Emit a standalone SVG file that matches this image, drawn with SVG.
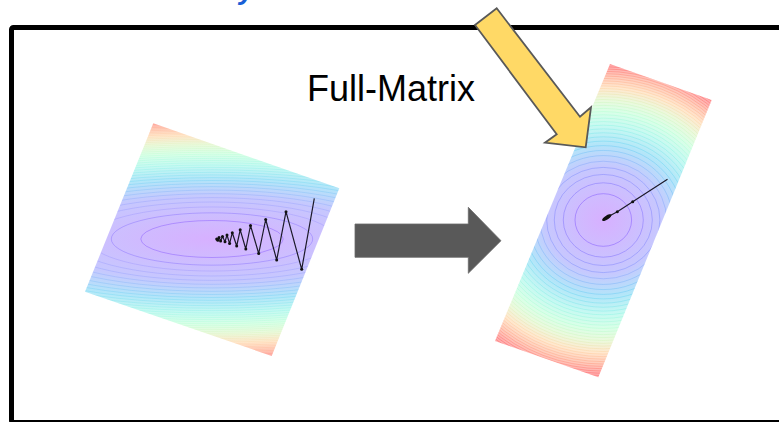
<svg xmlns="http://www.w3.org/2000/svg" width="779" height="422" viewBox="0 0 779 422">
<style>
.frame{fill:none;stroke:#000;stroke-width:5}
.lbl{font-family:"Liberation Sans",Arial,sans-serif;font-size:36px;fill:#000}
.title{font-family:"Liberation Sans",Arial,sans-serif;font-size:28px;font-style:italic;font-weight:bold;fill:#1a5fd6}
.cL{fill:none;stroke:url(#gLl);stroke-opacity:0.2;stroke-width:0.8}
.cR{fill:none;stroke:url(#gRl);stroke-opacity:0.24;stroke-width:0.9}
.traj{fill:none;stroke:#1c1a2a;stroke-width:1.2;stroke-linejoin:round}
.gray{fill:#595959;stroke:#6a6a6a;stroke-width:0.8}
.yellow{fill:#ffd966;stroke:#595959;stroke-width:1.8;stroke-linejoin:miter}
</style>
<defs>
<radialGradient id="pastel">
<stop offset="0" stop-color="#d7b0ff"/>
<stop offset="0.354" stop-color="#c6c8fe"/>
<stop offset="0.5" stop-color="#b3e6f9"/>
<stop offset="0.612" stop-color="#c6f9f2"/>
<stop offset="0.707" stop-color="#d9ffe8"/>
<stop offset="0.79" stop-color="#ecf9dd"/>
<stop offset="0.866" stop-color="#ffe8cf"/>
<stop offset="0.935" stop-color="#ffcdbd"/>
<stop offset="1" stop-color="#ffaeae"/>
</radialGradient>
<radialGradient id="sat">
<stop offset="0" stop-color="#8000ff"/>
<stop offset="0.354" stop-color="#4062fa"/>
<stop offset="0.5" stop-color="#00b5eb"/>
<stop offset="0.612" stop-color="#40ecd4"/>
<stop offset="0.707" stop-color="#80ffb4"/>
<stop offset="0.79" stop-color="#c0eb8d"/>
<stop offset="0.866" stop-color="#ffb360"/>
<stop offset="0.935" stop-color="#ff6230"/>
<stop offset="1" stop-color="#ff0000"/>
</radialGradient>
<radialGradient id="gL" href="#pastel" gradientUnits="userSpaceOnUse" cx="0" cy="0" r="1" gradientTransform="translate(212 239) scale(462 120)"/>
<radialGradient id="gLl" href="#sat" gradientUnits="userSpaceOnUse" cx="0" cy="0" r="1" gradientTransform="translate(212 239) scale(462 120)"/>
<radialGradient id="gR" href="#pastel" gradientUnits="userSpaceOnUse" cx="0" cy="0" r="1" gradientTransform="translate(603.3 220) scale(165 153)"/>
<radialGradient id="gRl" href="#sat" gradientUnits="userSpaceOnUse" cx="0" cy="0" r="1" gradientTransform="translate(603.3 220) scale(165 153)"/>
<clipPath id="clipL"><polygon points="153.3,123.3 339.3,188.3 271.7,356 85,291.7"/></clipPath>
<clipPath id="clipR"><polygon points="610,64 711.7,100 598.3,377.3 495,341"/></clipPath>
<marker id="dot" markerWidth="5" markerHeight="5" refX="2.5" refY="2.5" markerUnits="userSpaceOnUse"><circle cx="2.5" cy="2.5" r="1.5" fill="#111"/></marker>
</defs>

<g id="title-fragment"><text class="title" x="239" y="-1.5">y</text></g>

<g id="frame"><rect class="frame" x="11.5" y="27.5" width="800" height="395" rx="2"/></g>

<g id="label-full-matrix"><text class="lbl" x="307" y="101">Full-Matrix</text></g>

<g id="plot-sgd" clip-path="url(#clipL)">
<rect x="80" y="118" width="265" height="245" fill="url(#gL)"/>
<g class="cL">
<ellipse cx="212" cy="239" rx="71.2" ry="18.5" stroke-opacity="0.4"/>
<ellipse cx="212" cy="239" rx="100.7" ry="26.16" stroke-opacity="0.35"/>
<ellipse cx="212" cy="239" rx="123.4" ry="32.04"/>
<ellipse cx="212" cy="239" rx="142.5" ry="37"/>
<ellipse cx="212" cy="239" rx="159.3" ry="41.37"/>
<ellipse cx="212" cy="239" rx="174.5" ry="45.32"/>
<ellipse cx="212" cy="239" rx="188.4" ry="48.95"/>
<ellipse cx="212" cy="239" rx="201.5" ry="52.33"/>
<ellipse cx="212" cy="239" rx="213.7" ry="55.5"/>
<ellipse cx="212" cy="239" rx="225.2" ry="58.5"/>
<ellipse cx="212" cy="239" rx="236.2" ry="61.36"/>
<ellipse cx="212" cy="239" rx="246.7" ry="64.09"/>
<ellipse cx="212" cy="239" rx="256.8" ry="66.7"/>
<ellipse cx="212" cy="239" rx="266.5" ry="69.22"/>
<ellipse cx="212" cy="239" rx="275.9" ry="71.65"/>
<ellipse cx="212" cy="239" rx="284.9" ry="74"/>
<ellipse cx="212" cy="239" rx="293.7" ry="76.28"/>
<ellipse cx="212" cy="239" rx="302.2" ry="78.49"/>
<ellipse cx="212" cy="239" rx="310.5" ry="80.64"/>
<ellipse cx="212" cy="239" rx="318.5" ry="82.73"/>
<ellipse cx="212" cy="239" rx="326.4" ry="84.78"/>
<ellipse cx="212" cy="239" rx="334.1" ry="86.77"/>
<ellipse cx="212" cy="239" rx="341.6" ry="88.72"/>
<ellipse cx="212" cy="239" rx="348.9" ry="90.63"/>
<ellipse cx="212" cy="239" rx="356.1" ry="92.5"/>
<ellipse cx="212" cy="239" rx="363.2" ry="94.33"/>
<ellipse cx="212" cy="239" rx="370.1" ry="96.13"/>
<ellipse cx="212" cy="239" rx="376.9" ry="97.89"/>
<ellipse cx="212" cy="239" rx="383.6" ry="99.63"/>
<ellipse cx="212" cy="239" rx="390.1" ry="101.33"/>
<ellipse cx="212" cy="239" rx="396.6" ry="103"/>
<ellipse cx="212" cy="239" rx="402.9" ry="104.65"/>
<ellipse cx="212" cy="239" rx="409.2" ry="106.27"/>
<ellipse cx="212" cy="239" rx="415.3" ry="107.87"/>
<ellipse cx="212" cy="239" rx="421.4" ry="109.45"/>
<ellipse cx="212" cy="239" rx="427.4" ry="111"/>
<ellipse cx="212" cy="239" rx="433.2" ry="112.53"/>
<ellipse cx="212" cy="239" rx="439.1" ry="114.04"/>
<ellipse cx="212" cy="239" rx="444.8" ry="115.53"/>
<ellipse cx="212" cy="239" rx="450.5" ry="117"/>
<ellipse cx="212" cy="239" rx="456.1" ry="118.46"/>
<ellipse cx="212" cy="239" rx="461.6" ry="119.89"/>
<ellipse cx="212" cy="239" rx="467.1" ry="121.31"/>
</g>
<polyline class="traj" marker-mid="url(#dot)" marker-end="url(#dot)" points="314.3,198.3 301.7,269.3 286,211.7 276.7,260 265.7,219.5 258.7,253.5 250.5,225.5 245.8,249 240.2,229.8 236.7,246 232.3,232.7 229.6,243.6 227,235 225,241.7 222.5,236.5 220.6,241 219,237.5 217.8,240.3 216.7,239"/>
</g>

<g id="plot-full-matrix" clip-path="url(#clipR)">
<rect x="490" y="60" width="226" height="322" fill="url(#gR)"/>
<g class="cR">
<ellipse cx="603.3" cy="220" rx="28.3" ry="26.3" stroke-opacity="0.4"/>
<ellipse cx="603.3" cy="220" rx="40.02" ry="37.19" stroke-opacity="0.36"/>
<ellipse cx="603.3" cy="220" rx="49.02" ry="45.55" stroke-opacity="0.32"/>
<ellipse cx="603.3" cy="220" rx="56.6" ry="52.6" stroke-opacity="0.3"/>
<ellipse cx="603.3" cy="220" rx="63.28" ry="58.81"/>
<ellipse cx="603.3" cy="220" rx="69.32" ry="64.42"/>
<ellipse cx="603.3" cy="220" rx="74.88" ry="69.58"/>
<ellipse cx="603.3" cy="220" rx="80.04" ry="74.39"/>
<ellipse cx="603.3" cy="220" rx="84.9" ry="78.9"/>
<ellipse cx="603.3" cy="220" rx="89.49" ry="83.17"/>
<ellipse cx="603.3" cy="220" rx="93.86" ry="87.23"/>
<ellipse cx="603.3" cy="220" rx="98.03" ry="91.11"/>
<ellipse cx="603.3" cy="220" rx="102.04" ry="94.83"/>
<ellipse cx="603.3" cy="220" rx="105.89" ry="98.41"/>
<ellipse cx="603.3" cy="220" rx="109.61" ry="101.86"/>
<ellipse cx="603.3" cy="220" rx="113.2" ry="105.2"/>
<ellipse cx="603.3" cy="220" rx="116.68" ry="108.44"/>
<ellipse cx="603.3" cy="220" rx="120.07" ry="111.58"/>
<ellipse cx="603.3" cy="220" rx="123.36" ry="114.64"/>
<ellipse cx="603.3" cy="220" rx="126.56" ry="117.62"/>
<ellipse cx="603.3" cy="220" rx="129.69" ry="120.52"/>
<ellipse cx="603.3" cy="220" rx="132.74" ry="123.36"/>
<ellipse cx="603.3" cy="220" rx="135.72" ry="126.13"/>
<ellipse cx="603.3" cy="220" rx="138.64" ry="128.84"/>
<ellipse cx="603.3" cy="220" rx="141.5" ry="131.5"/>
<ellipse cx="603.3" cy="220" rx="144.3" ry="134.1"/>
<ellipse cx="603.3" cy="220" rx="147.05" ry="136.66"/>
<ellipse cx="603.3" cy="220" rx="149.75" ry="139.16"/>
<ellipse cx="603.3" cy="220" rx="152.4" ry="141.63"/>
<ellipse cx="603.3" cy="220" rx="155" ry="144.05"/>
<ellipse cx="603.3" cy="220" rx="157.57" ry="146.43"/>
<ellipse cx="603.3" cy="220" rx="160.09" ry="148.77"/>
<ellipse cx="603.3" cy="220" rx="162.57" ry="151.08"/>
<ellipse cx="603.3" cy="220" rx="164.99" ry="153.35"/>
<ellipse cx="603.3" cy="220" rx="167.4" ry="155.6"/>
<ellipse cx="603.3" cy="220" rx="169.8" ry="157.8"/>
</g>
<polyline class="traj" marker-mid="url(#dot)" points="667.5,179.3 632.7,201.7 617.3,211.7 608,216.7 603.3,220"/>
<ellipse cx="606.8" cy="217.6" rx="5.5" ry="2" transform="rotate(-33 606.8 217.6)" fill="#111"/>
</g>

<g id="connectors">
<polygon id="arrow-transform" class="gray" points="355,224 468.3,224 468.3,207.3 501,240.7 468.3,273.3 468.3,257.3 355,257.3"/>
</g>

<g id="callout-arrow">
<polygon class="yellow" points="475,25 496.7,8.3 580,116.7 591,107.3 585.7,147.3 545,142.7 556.7,134.3"/>
</g>
</svg>
